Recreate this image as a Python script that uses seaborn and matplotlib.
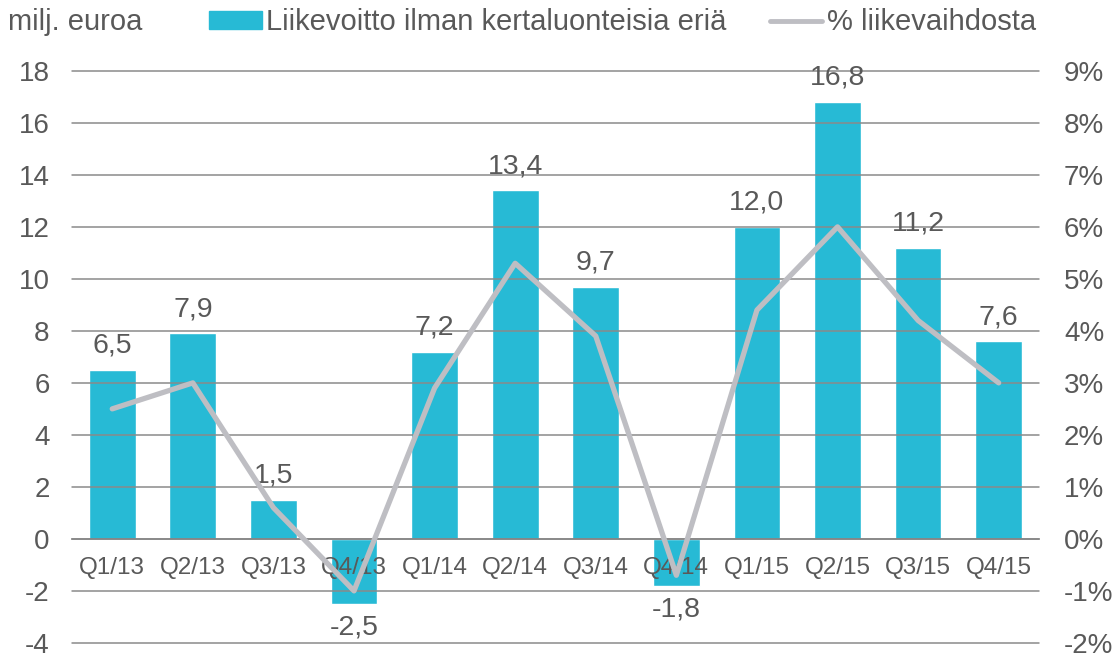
import numpy as np
import pandas as pd
import seaborn as sns
import matplotlib.pyplot as plt
from matplotlib.patches import Patch
from matplotlib.lines import Line2D

# data
quarters = ["Q1/13", "Q2/13", "Q3/13", "Q4/13", "Q1/14", "Q2/14",
            "Q3/14", "Q4/14", "Q1/15", "Q2/15", "Q3/15", "Q4/15"]
ebit = [6.5, 7.9, 1.5, -2.5, 7.2, 13.4, 9.7, -1.8, 12.0, 16.8, 11.2, 7.6]
margin_pct = [2.5, 3.0, 0.6, -1.0, 2.9, 5.3, 3.9, -0.7, 4.4, 6.0, 4.2, 3.0]

left_ticks = list(range(-4, 19, 2))
right_ticks = list(range(-2, 10))

bar_color = "#27BAD5"
line_color = "#BEBEC3"
text_color = "#595959"
grid_color = "#8A8A8A"
axis_color = "#6E6E6E"

sns.set_style("white")
plt.rcParams["font.family"] = ["Liberation Sans", "DejaVu Sans"]
plt.rcParams["axes.unicode_minus"] = False

df = pd.DataFrame({"quarter": quarters, "ebit": ebit, "margin": margin_pct})

fig = plt.figure(figsize=(11.19, 6.53), dpi=100)
ax = fig.add_axes([0.0643, 0.0155, 0.8642, 0.876])

sns.barplot(data=df, x="quarter", y="ebit", color=bar_color, width=0.58,
            saturation=1, ax=ax)

# value labels with decimal comma
labels = [f"{v:.1f}".replace(".", ",") for v in ebit]
ax.bar_label(ax.containers[0], labels=labels, padding=8, fontsize=20.5,
             color=text_color)

ax.set_xlim(-0.5, 11.5)
ax.set_ylim(-4, 18)
ax.set_yticks(left_ticks)
ax.set_xlabel("")
ax.set_ylabel("")
ax.set_axisbelow(False)
ax.yaxis.grid(True, color=grid_color, lw=1.1, clip_on=False)
ax.xaxis.grid(False)
for s in ["top", "right", "left"]:
    ax.spines[s].set_visible(False)
ax.spines["bottom"].set_position(("data", 0))
ax.spines["bottom"].set_color(axis_color)
ax.spines["bottom"].set_linewidth(1.1)
ax.tick_params(axis="y", length=0, labelsize=20, labelcolor=text_color, pad=16)
ax.tick_params(axis="x", which="major", length=0, labelsize=17.5,
               labelcolor=text_color, pad=13)
ax.set_xticks(np.arange(-0.5, 12, 1), minor=True)
ax.tick_params(axis="x", which="minor", length=10, width=1.1,
               color=axis_color, direction="inout")

ax2 = ax.twinx()
sns.lineplot(data=df, x="quarter", y="margin", sort=False, color=line_color,
             lw=3.8, ax=ax2)
ax2.set_ylim(-2, 9)
ax2.set_yticks(right_ticks)
ax2.set_yticklabels([f"{t}%" for t in right_ticks])
ax2.set_ylabel("")
ax2.tick_params(axis="y", length=0, labelsize=20, labelcolor=text_color, pad=18)
for s in ax2.spines.values():
    s.set_visible(False)

fig.text(0.007, 0.966, "milj. euroa", fontsize=21, color=text_color,
         va="center", ha="left")
handles = [Patch(color=bar_color),
           Line2D([0], [0], color=line_color, lw=3.5, solid_capstyle="round")]
fig.legend(handles, ["Liikevoitto ilman kertaluonteisia eriä", "% liikevaihdosta"],
           loc="center left", bbox_to_anchor=(0.187, 0.966), ncol=2,
           frameon=False, fontsize=21, labelcolor=text_color,
           handlelength=1.8, handleheight=0.55, handletextpad=0.14,
           columnspacing=1.5, borderaxespad=0, borderpad=0)

fig.savefig("out.png", dpi=100)
